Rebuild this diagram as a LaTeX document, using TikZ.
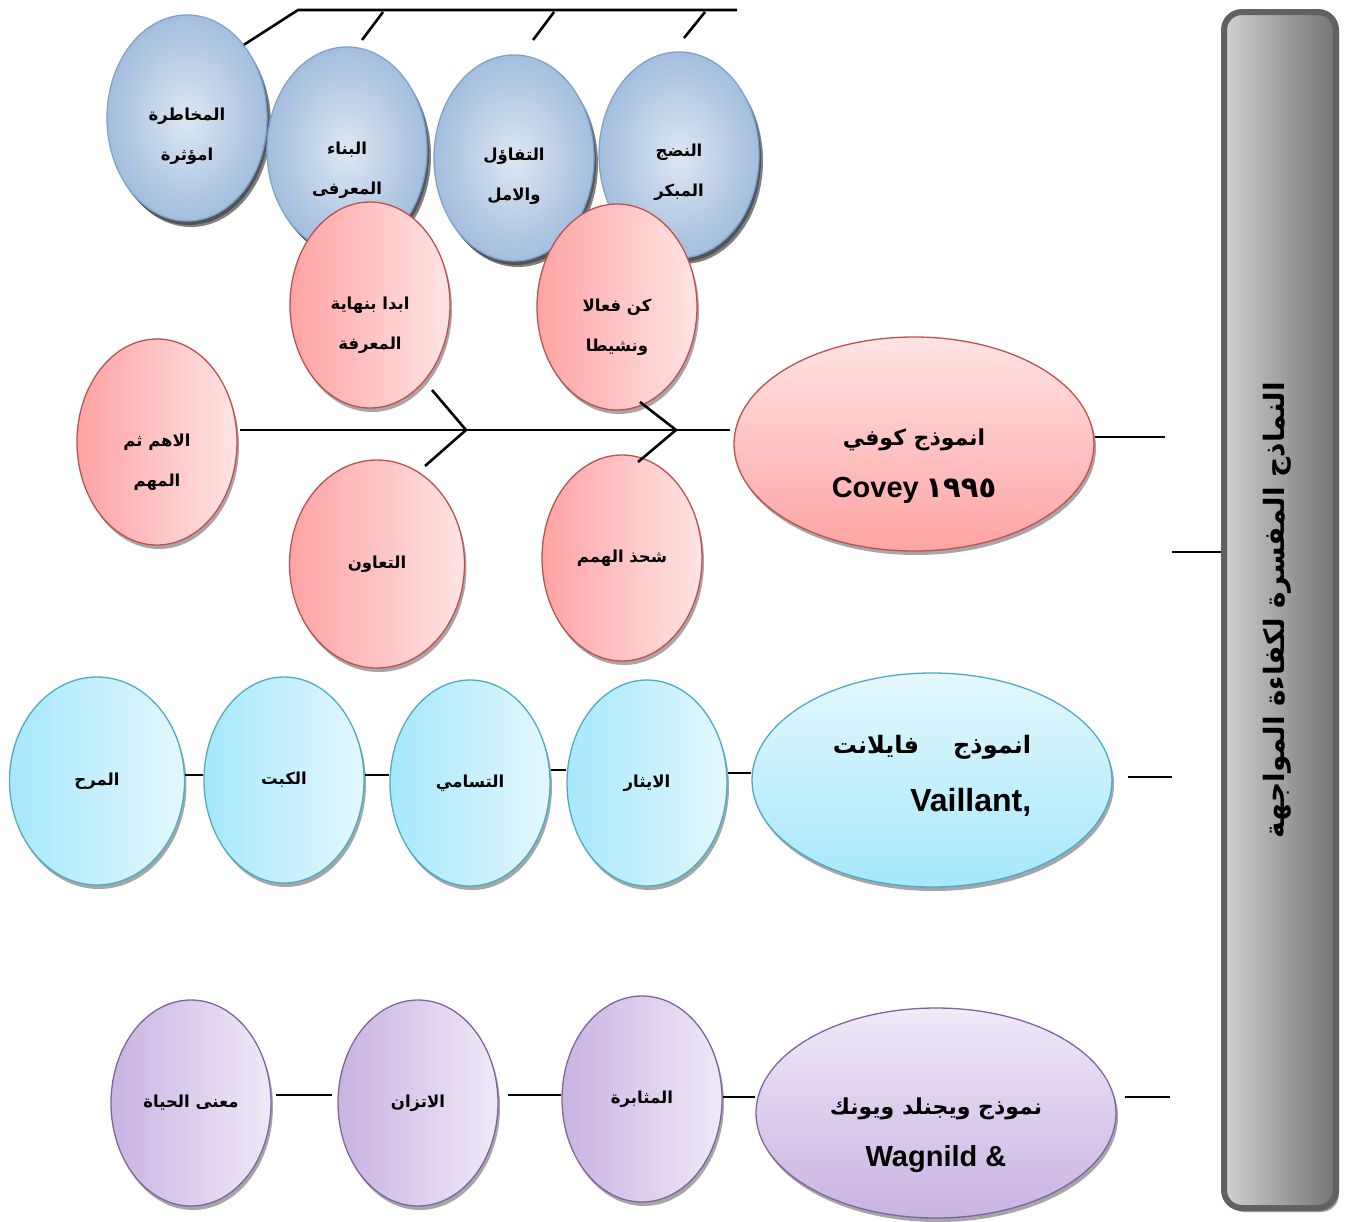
\documentclass[tikz,border=0pt]{standalone}
\usepackage{fontspec}
\usetikzlibrary{shapes.geometric,shadows}
\TeXXeTstate=1
\newfontfamily\arabicfont[Script=Arabic]{DejaVu Sans}
\newfontfamily\latinfont{Liberation Sans}
\newcommand\artxt[1]{{\arabicfont\bfseries\beginR #1\endR}}
\newcommand\lattxt[2]{{\latinfont\bfseries\fontsize{#1}{52}\selectfont #2}}
\definecolor{bluefillA}{HTML}{DDE7F3}
\definecolor{bluefillB}{HTML}{A3BEDD}
\definecolor{blueline}{HTML}{7EA2CE}
\definecolor{redA}{HTML}{FFA3A3}
\definecolor{redB}{HTML}{FFE4E4}
\definecolor{redline}{HTML}{C0504D}
\definecolor{cyanA}{HTML}{A6E8FC}
\definecolor{cyanB}{HTML}{E4F7FD}
\definecolor{cyanline}{HTML}{4BACC6}
\definecolor{purA}{HTML}{C9B3E2}
\definecolor{purB}{HTML}{EFE9F7}
\definecolor{purline}{HTML}{8064A2}
\tikzset{
  oval/.style={ellipse, inner sep=0pt, minimum width=160pt, minimum height=206pt,
    line width=1.3pt, align=center, font=\fontsize{16.5}{40}\selectfont,
    drop shadow={shadow xshift=2pt, shadow yshift=-4pt, opacity=0.35, fill=black}},
  bigoval/.style={oval, minimum width=360pt, minimum height=214pt},
  bluebub/.style={oval, draw=blueline, inner color=bluefillA, outer color=bluefillB,
    drop shadow={shadow xshift=4pt, shadow yshift=-6pt, opacity=0.5, fill=black}},
  redbub/.style={oval, draw=redline, left color=redA, right color=redB},
  cyanbub/.style={oval, draw=cyanline, left color=cyanA, right color=cyanB},
  purbub/.style={oval, draw=purline, left color=purA, right color=purB},
  lbl/.style={align=center, inner sep=0pt, font=\fontsize{16.5}{40}\selectfont},
  biglbl/.style={align=center, inner sep=0pt, font=\fontsize{22}{52}\selectfont},
  bone/.style={line width=2.6pt, black},
  titlebox/.style={rectangle, rounded corners=18pt, minimum width=112pt, minimum height=1196pt,
    draw=black!62, line width=6pt, left color=black!18, right color=black!55,
    drop shadow={shadow xshift=3pt, shadow yshift=-4pt, opacity=0.4, fill=black}}
}
\begin{document}
\begin{tikzpicture}[x=1pt,y=-1pt]
\useasboundingbox (0,0) rectangle (1352,1221);

% title box
\node[titlebox] (title) at (1280,610) {};
\node[rotate=90, font=\fontsize{28}{30}\selectfont] (titletext) at (1277,610) {\artxt{النماذج المفسرة لكفاءة المواجهة}};

% top blue bubbles
\node[bluebub] (b1) at (187,118) {};
\node[bluebub] (b2) at (347,150) {};
\node[bluebub] (b3) at (514,158) {};
\node[bluebub] (b4) at (679,155) {};
\node[lbl] (b1t) at ([yshift=-18pt]b1.center) {\artxt{المخاطرة}\\\artxt{امؤثرة}};
\node[lbl] (b2t) at ([yshift=-20pt]b2.center) {\artxt{البناء}\\\artxt{المعرفى}};
\node[lbl] (b3t) at ([yshift=-18pt]b3.center) {\artxt{التفاؤل}\\\artxt{والامل}};
\node[lbl] (b4t) at ([yshift=-17pt]b4.center) {\artxt{النضج}\\\artxt{المبكر}};

% top bone
\coordinate (t1) at (298,10);
\coordinate (t2) at (737,10);
\draw[bone] (b1.north east) -- (t1) -- (t2);
\coordinate (k1a) at (362,40); \coordinate (k1b) at (383,12);
\coordinate (k2a) at (533,40); \coordinate (k2b) at (554,12);
\coordinate (k3a) at (684,38); \coordinate (k3b) at (705,12);
\draw[bone] (k1a) -- (k1b);
\draw[bone] (k2a) -- (k2b);
\draw[bone] (k3a) -- (k3b);

% red bubbles
\node[redbub] (r1) at (370,305) {};
\node[lbl] (r1t) at ([yshift=-20pt]r1.center) {\artxt{ابدا بنهاية}\\\artxt{المعرفة}};
\node[redbub] (r2) at (617,307) {};
\node[lbl] (r2t) at ([yshift=-20pt]r2.center) {\artxt{كن فعالا}\\\artxt{ونشيطا}};
\node[redbub] (r3) at (157,442) {};
\node[lbl] (r3t) at ([yshift=-20pt]r3.center) {\artxt{الاهم ثم}\\\artxt{المهم}};
\node[redbub, minimum width=175pt, minimum height=208pt] (r4) at (377,564) {\artxt{التعاون}};
\node[redbub] (r5) at (622,558) {\artxt{شحذ الهمم}};
\node[bigoval, draw=redline, top color=redB, bottom color=redA] (covey) at (914,444) {};
\node[biglbl] (coveyt) at ([yshift=-22pt]covey.center)
  {\artxt{انموذج كوفي}\\\lattxt{29}{Covey}\ {\arabicfont\bfseries\fontsize{29}{52}\selectfont ١٩٩٥}};

% spine
\coordinate (sp0) at (240,430);
\coordinate (sp1) at (730,430);
\draw[bone] (sp0) -- (sp1);
\coordinate (h1a) at (432,390); \coordinate (h1b) at (466,430); \coordinate (h1c) at (425,466);
\coordinate (h2a) at (640,402); \coordinate (h2b) at (676,430); \coordinate (h2c) at (638,462);
\draw[bone] (h1a) -- (h1b) -- (h1c);
\draw[bone] (h2a) -- (h2b) -- (h2c);
\coordinate (cv) at (1165,437);
\draw[bone] (covey.east |- cv) -- (cv);
\coordinate (tl) at (1172,552);
\draw[bone] (tl) -- (tl -| title.west);

% cyan row
\node[cyanbub, minimum width=175pt, minimum height=208pt] (c1) at (97,781) {\artxt{المرح}};
\node[cyanbub] (c2) at (284,780) {\artxt{الكبت}};
\node[cyanbub] (c3) at (470,783) {\artxt{التسامي}};
\node[cyanbub] (c4) at (647,783) {\artxt{الايثار}};
\node[bigoval, draw=cyanline, top color=cyanB, bottom color=cyanA] (vail) at (932,780) {};
\node[biglbl, align=right, font=\fontsize{24}{58}\selectfont] (vailt) at ([yshift=4pt]vail.center)
  {\artxt{انموذج\hspace{34pt}فايلانت}\\\lattxt{32}{Vaillant,}};
\coordinate (cy1) at (0,775);
\coordinate (cy2) at (0,770);
\coordinate (cy3) at (0,773);
\draw[bone] (c1.east |- cy1) -- (c2.west |- cy1);
\draw[bone] (c2.east |- cy1) -- (c3.west |- cy1);
\draw[bone] (c3.east |- cy2) -- (c4.west |- cy2);
\draw[bone] (c4.east |- cy3) -- (vail.west |- cy3);
\coordinate (vl) at (1172,777);
\draw[bone] (vl -| vail.east) ++(15,0) -- (vl);

% purple row
\node[purbub] (p1) at (191,1103) {\artxt{معنى الحياة}};
\node[purbub] (p2) at (418,1103) {\artxt{الاتزان}};
\node[purbub] (p3) at (642,1099) {\artxt{المثابرة}};
\node[bigoval, draw=purline, top color=purB, bottom color=purA, minimum height=210pt] (wag) at (936,1113) {};
\node[biglbl] (wagt) at ([yshift=-22pt]wag.center)
  {\artxt{نموذج ويجنلد ويونك}\\\lattxt{29}{Wagnild \&}};
\coordinate (py) at (0,1095);
\coordinate (py2) at (0,1097);
\draw[bone, shorten <=4pt, shorten >=5pt] (p1.east |- py) -- (p2.west |- py);
\draw[bone, shorten <=9pt] (p2.east |- py) -- (p3.west |- py);
\draw[bone] (p3.east |- py2) -- (wag.west |- py2);
\coordinate (wl) at (1170,1097);
\draw[bone] (wl -| wag.east) ++(8,0) -- (wl);
\end{tikzpicture}
\end{document}
